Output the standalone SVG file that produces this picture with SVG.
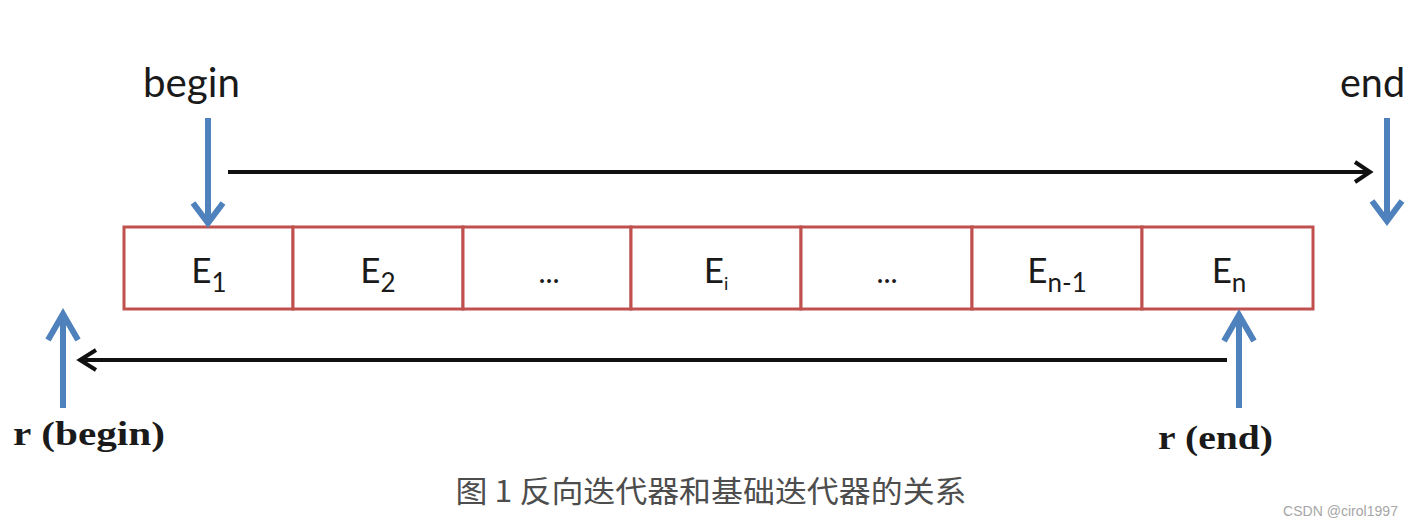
<svg xmlns="http://www.w3.org/2000/svg" width="1416" height="524" viewBox="0 0 1416 524">
<style>
.lbl{font-family:Lato,"Open Sans","Liberation Sans",sans-serif;fill:#1a1a1a}
.cell{fill:#ffffff;stroke:#c0504d;stroke-width:3}
.blue{stroke:#4f81bd;stroke-width:6;fill:none;stroke-linecap:butt;stroke-linejoin:miter}
.black{stroke:#111111;stroke-width:4;fill:none;stroke-linejoin:miter}
.rlbl{font-family:"Liberation Serif","Times New Roman",serif;font-weight:bold;fill:#1a1a1a}
.cap{font-family:"Noto Sans CJK SC","Noto Sans",sans-serif;fill:#4d4d4d}
.wm{font-family:"Liberation Sans",Arial,sans-serif;fill:#a6a6a6}
</style>
<rect width="1416" height="524" fill="#ffffff"/>
<g id="array">
  <g id="cell-e1"><rect class="cell" x="124" y="227" width="169" height="82"/><text class="lbl" x="209" y="283" font-size="35" text-anchor="middle">E<tspan font-size="26" dy="9">1</tspan></text></g>
  <g id="cell-e2"><rect class="cell" x="293" y="227" width="170" height="82"/><text class="lbl" x="378" y="283" font-size="35" text-anchor="middle">E<tspan font-size="26" dy="9">2</tspan></text></g>
  <g id="cell-dots1"><rect class="cell" x="463" y="227" width="168" height="82"/><text class="lbl" x="549" y="283" font-size="30" text-anchor="middle">...</text></g>
  <g id="cell-ei"><rect class="cell" x="631" y="227" width="170" height="82"/><text class="lbl" x="716" y="283" font-size="35" text-anchor="middle">E<tspan font-size="18" dy="7">i</tspan></text></g>
  <g id="cell-dots2"><rect class="cell" x="801" y="227" width="171" height="82"/><text class="lbl" x="887" y="283" font-size="30" text-anchor="middle">...</text></g>
  <g id="cell-en1"><rect class="cell" x="972" y="227" width="170" height="82"/><text class="lbl" x="1057" y="283" font-size="35" text-anchor="middle">E<tspan font-size="26" dy="9">n-1</tspan></text></g>
  <g id="cell-en"><rect class="cell" x="1142" y="227" width="171" height="82"/><text class="lbl" x="1229" y="283" font-size="35" text-anchor="middle">E<tspan font-size="26" dy="9">n</tspan></text></g>
</g>
<g id="label-begin"><text class="lbl" x="143" y="97" font-size="40" textLength="97" lengthAdjust="spacingAndGlyphs">begin</text></g>
<g id="label-end"><text class="lbl" x="1340" y="97" font-size="40" textLength="65" lengthAdjust="spacingAndGlyphs">end</text></g>
<g id="label-rbegin"><text class="rlbl" x="13" y="445" font-size="33" textLength="152" lengthAdjust="spacingAndGlyphs">r<tspan dx="8">(begin)</tspan></text></g>
<g id="label-rend"><text class="rlbl" x="1158" y="449" font-size="33" textLength="115" lengthAdjust="spacingAndGlyphs">r<tspan dx="8">(end)</tspan></text></g>
<g id="connectors">
  <path class="blue" d="M208 118 V223 M193 203 L208 223 L223 203"/>
  <path class="blue" d="M1387 118 V221 M1372 201 L1387 221 L1402 201"/>
  <path class="blue" d="M63 408 V314 M48 340 L63 314 L78 340"/>
  <path class="blue" d="M1239 408 V315 M1224 341 L1239 315 L1254 341"/>
  <path class="black" d="M228 172 H1370 M1355 162 L1370 172 L1355 182"/>
  <path class="black" d="M1227 360 H80 M96 350 L80 360 L96 370"/>
</g>
<g id="caption"><text class="cap" x="711" y="502" font-size="30" text-anchor="middle" textLength="511" lengthAdjust="spacingAndGlyphs">图 1 反向迭代器和基础迭代器的关系</text></g>
<g id="watermark"><text class="wm" x="1283" y="516" font-size="15" textLength="115" lengthAdjust="spacingAndGlyphs">CSDN @cirol1997</text></g>
</svg>
